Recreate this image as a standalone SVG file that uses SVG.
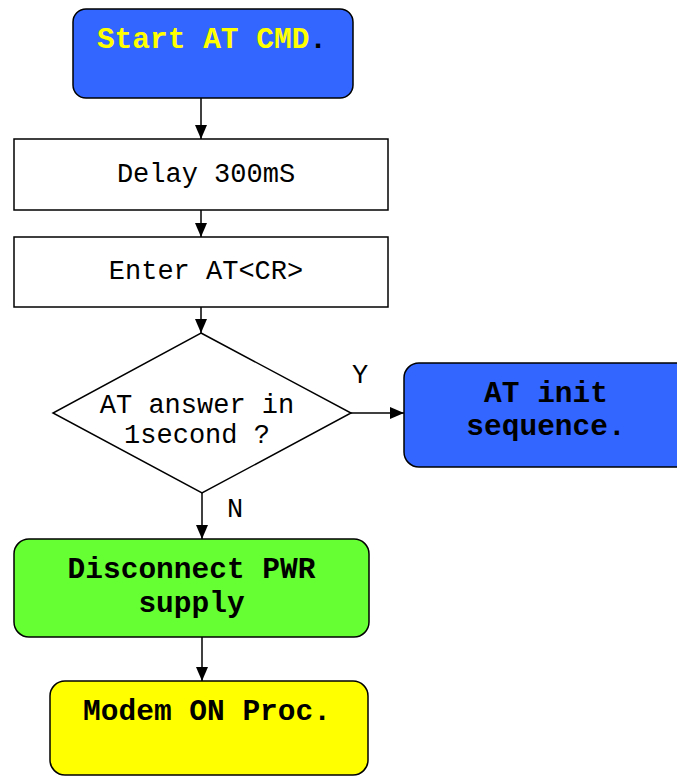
<svg xmlns="http://www.w3.org/2000/svg" width="677" height="776" viewBox="0 0 677 776">
<style>
.box{stroke:#000;stroke-width:1.5}
.t{font-family:"Liberation Mono","Courier New",monospace;font-size:27px;fill:#000;text-anchor:middle}
.b{font-family:"Liberation Mono","Courier New",monospace;font-size:29.5px;font-weight:bold;fill:#000;text-anchor:middle}
.c{stroke:#000;stroke-width:1.5;fill:none;marker-end:url(#ah)}
</style>
<defs>
<marker id="ah" markerWidth="14" markerHeight="12" refX="14" refY="6" orient="auto" markerUnits="userSpaceOnUse">
<path d="M0,0 L14,6 L0,12 Z" fill="#000"/>
</marker>
</defs>
<g id="connectors">
<path class="c" d="M201,98 V139"/>
<path class="c" d="M201,210 V237"/>
<path class="c" d="M201,307 V333"/>
<path class="c" d="M351,413 H404"/>
<path class="c" d="M202,493 V539"/>
<path class="c" d="M202,637 V681"/>
<text class="t" x="360" y="383">Y</text>
<text class="t" x="235" y="517">N</text>
</g>
<g id="start">
<rect class="box" x="73" y="9" width="280" height="89" rx="13" fill="#3366FF"/>
<text class="b" x="212" y="48"><tspan fill="#FFFF00">Start AT CMD</tspan>.</text>
</g>
<g id="delay">
<rect class="box" x="14" y="139" width="374" height="71" fill="#fff"/>
<text class="t" x="206" y="182">Delay 300mS</text>
</g>
<g id="enter">
<rect class="box" x="14" y="237" width="374" height="70" fill="#fff"/>
<text class="t" x="206" y="279">Enter AT&lt;CR&gt;</text>
</g>
<g id="decision">
<polygon class="box" points="201,333 351,413 202,493 53,413" fill="#fff"/>
<text class="t" x="197" y="413">AT answer in</text>
<text class="t" x="197" y="443">1second ?</text>
</g>
<g id="atinit">
<rect class="box" x="404" y="363" width="290" height="104" rx="15" fill="#3366FF"/>
<text class="b" x="546" y="402">AT init</text>
<text class="b" x="546" y="435">sequence.</text>
</g>
<g id="disconnect">
<rect class="box" x="14" y="539" width="355" height="98" rx="15" fill="#66FF33"/>
<text class="b" x="191.5" y="578">Disconnect PWR</text>
<text class="b" x="191.5" y="612">supply</text>
</g>
<g id="modem">
<rect class="box" x="50" y="681" width="318" height="94" rx="15" fill="#FFFF00"/>
<text class="b" x="207" y="720">Modem ON Proc.</text>
</g>
</svg>
